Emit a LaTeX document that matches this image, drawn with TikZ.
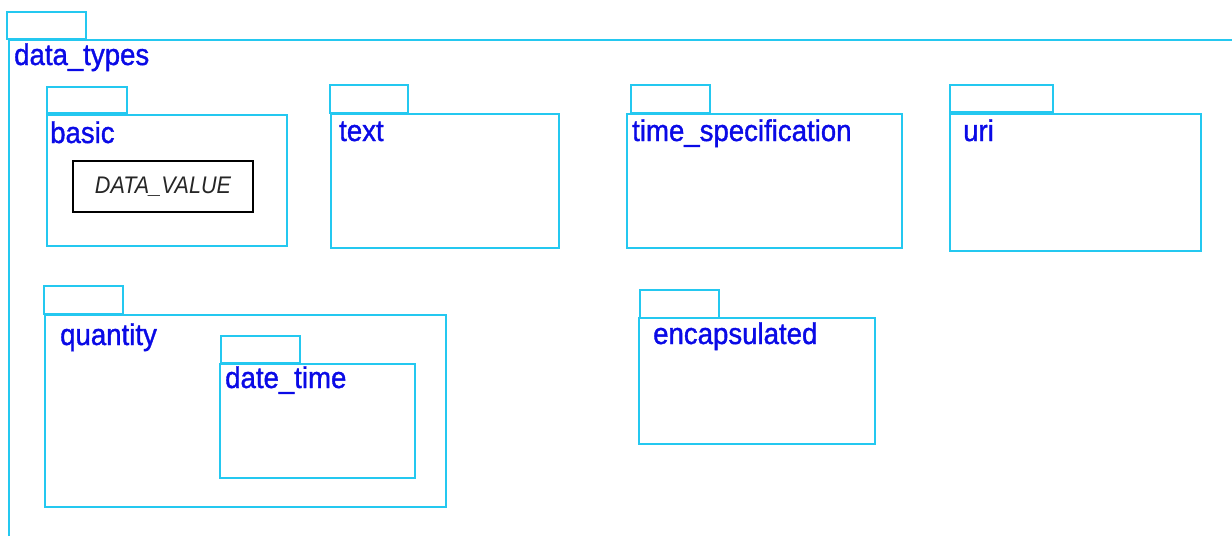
\documentclass[tikz,border=0pt]{standalone}
\usepackage{fontspec}
\newfontfamily\pkgfont[FakeStretch=0.92,FakeBold=1.2]{Liberation Sans}
\newfontfamily\classfont[FakeStretch=0.9]{Liberation Sans}
\usetikzlibrary{positioning}
\definecolor{pkgline}{RGB}{36,200,240}
\definecolor{pkgtext}{RGB}{10,10,230}
\tikzset{
  pkg/.style={draw=pkgline, line width=2.5pt},
  pkglabel/.style={anchor=base west, inner sep=0pt, text=pkgtext,
    font=\pkgfont\fontsize{30}{30}\selectfont},
  classbox/.style={draw=black, line width=2.2pt, inner sep=0pt,
    minimum width=180pt, minimum height=51pt,
    font=\classfont\fontsize{24}{24}\selectfont\itshape, text=black!85}
}
\begin{document}
\begin{tikzpicture}[x=1pt, y=-1pt]
    \useasboundingbox (0,0) rectangle (1232,536);
    % outer package
    \draw[pkg] (7,12) rectangle (86,39);
    \draw[pkg] (9,536) -- (9,40) -- (1232,40);
    \node[pkglabel] (datatypes) at (14,65) {data\_types};
    % first row
    \draw[pkg] (47,87) rectangle (127,113);
    \draw[pkg] (47,115) rectangle (287,246);
    \node[pkglabel] (basic) at (50,143) {basic};
    \node[classbox] (datavalue) at (163,186.5) {DATA\_VALUE};
    \draw[pkg] (330,85) rectangle (408,113);
    \draw[pkg] (331,114) rectangle (559,248);
    \node[pkglabel] (text) at (339,141) {text};
    \draw[pkg] (631,85) rectangle (710,113);
    \draw[pkg] (627,114) rectangle (902,248);
    \node[pkglabel] (timespec) at (632,141) {time\_specification};
    \draw[pkg] (950,85) rectangle (1053,112);
    \draw[pkg] (950,114) rectangle (1201,251);
    \node[pkglabel] (uri) at (963,141) {uri};
    % second row
    \draw[pkg] (44,286) rectangle (123,314);
    \draw[pkg] (45,315) rectangle (446,507);
    \node[pkglabel] (quantity) at (60,345) {quantity};
    \draw[pkg] (221,336) rectangle (300,363);
    \draw[pkg] (220,364) rectangle (415,478);
    \node[pkglabel] (datetime) at (225,388) {date\_time};
    \draw[pkg] (640,290) rectangle (719,318);
    \draw[pkg] (639,318) rectangle (875,444);
    \node[pkglabel] (encapsulated) at (653,344) {encapsulated};
\end{tikzpicture}
\end{document}
